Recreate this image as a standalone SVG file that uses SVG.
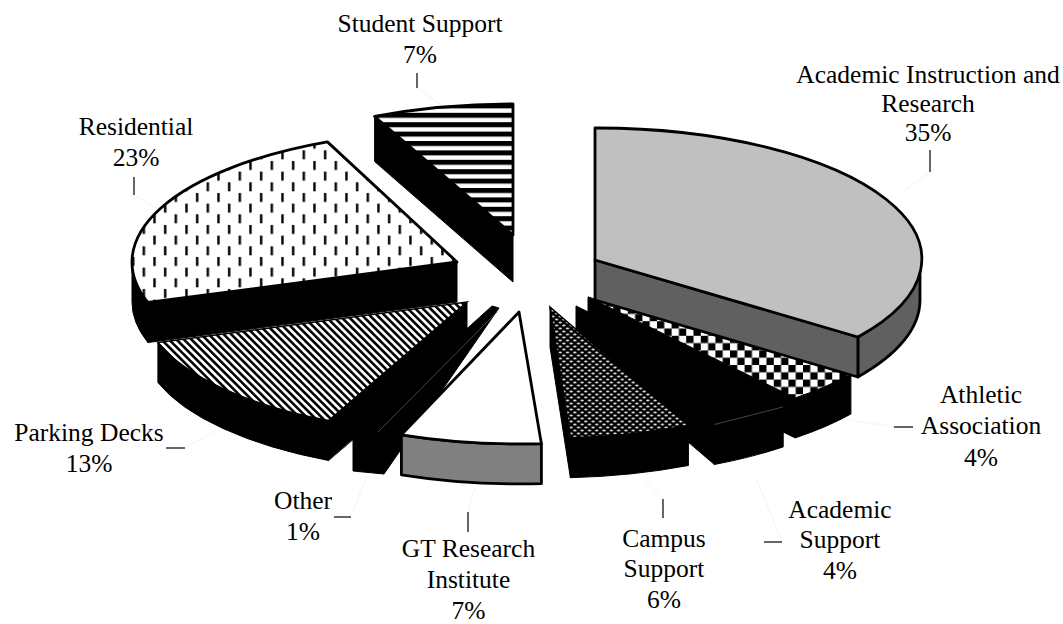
<svg xmlns="http://www.w3.org/2000/svg" width="1063" height="624" viewBox="0 0 1063 624">
<defs>
<pattern id="pDash" width="21.33" height="21.33" patternUnits="userSpaceOnUse">
<rect width="21.33" height="21.33" fill="#fff"/>
<rect x="4" y="1" width="2.4" height="9" fill="#000"/>
<rect x="14.67" y="11.67" width="2.4" height="9" fill="#000"/>
</pattern>
<pattern id="pDiag" width="5.3" height="10" patternUnits="userSpaceOnUse" patternTransform="rotate(-45)">
<rect width="5.3" height="10" fill="#fff"/>
<rect width="2.6" height="10" fill="#000"/>
</pattern>
<pattern id="pHoriz" width="10" height="9.4" patternUnits="userSpaceOnUse">
<rect width="10" height="9.4" fill="#fff"/>
<rect width="10" height="5" fill="#000"/>
</pattern>
<pattern id="pCheck" width="14.6" height="14.6" patternUnits="userSpaceOnUse">
<rect width="14.6" height="14.6" fill="#fff"/>
<rect width="7.3" height="7.3" fill="#000"/>
<rect x="7.3" y="7.3" width="7.3" height="7.3" fill="#000"/>
</pattern>
<pattern id="pDots" width="7.3" height="6" patternUnits="userSpaceOnUse">
<rect width="7.3" height="6" fill="#000"/>
<ellipse cx="1.8" cy="1.5" rx="1.7" ry="0.9" fill="#ddd"/>
<ellipse cx="5.45" cy="4.5" rx="1.7" ry="0.9" fill="#ddd"/>
</pattern>
</defs>
<style>
.top{stroke:#000;stroke-width:2.8;stroke-linejoin:round}
.blk{fill:#000;stroke:#000;stroke-width:1;stroke-linejoin:round}
.sep{stroke:#555;stroke-width:0.8;fill:none}
.lbl{font-family:"Liberation Serif","Times New Roman",serif;font-size:25.5px;fill:#000;text-anchor:middle}
.tick{stroke:#000;stroke-width:1.2}
.lead{stroke:#f3f3f3;stroke-width:1;fill:none}
</style>
<rect width="1063" height="624" fill="#fff"/>

<g id="leaders">
<line class="lead" x1="417" y1="88" x2="440" y2="104"/>
<line class="lead" x1="930" y1="172" x2="905" y2="190"/>
<line class="lead" x1="134" y1="195" x2="160" y2="210"/>
<line class="lead" x1="185" y1="448" x2="217" y2="430"/>
<line class="lead" x1="351" y1="517" x2="367" y2="475"/>
<line class="lead" x1="468" y1="512" x2="475" y2="487"/>
<line class="lead" x1="663" y1="499" x2="643" y2="480"/>
<line class="lead" x1="782" y1="542" x2="757" y2="480"/>
<line class="lead" x1="894" y1="427" x2="850" y2="420"/>
</g>

<g id="slice-student-support">
<path class="blk" d="M513,235 L374.6,116.5 L374.6,161.5 L513,282 Z"/>
<path class="top" fill="url(#pHoriz)" d="M513,235 L374.6,116.5 A325,131 0 0 1 513,104 Z"/>
</g>

<g id="slice-residential">
<path class="blk" d="M457,262 L147.9,302.5 L147.9,342.5 L457,302 Z"/>
<path class="blk" d="M147.9,302.5 A325,131 0 0 1 132,262 L132,302 A325,131 0 0 0 147.9,342.5 Z"/>
<path class="top" fill="url(#pDash)" d="M457,262 L147.9,302.5 A325,131 0 0 1 327.4,141.9 Z"/>
</g>

<g id="slice-athletic">
<path class="blk" d="M850.9,374 A325,131 0 0 1 795.2,397.9 L795.2,437.9 A325,131 0 0 0 850.9,414 Z"/>
<path class="blk" d="M588,297 L795.2,397.9 L795.2,437.9 L588,337 Z"/>
<path fill="url(#pCheck)" stroke="#000" stroke-width="1" d="M588,297 L850.9,374 A325,131 0 0 1 795.2,397.9 Z"/>
</g>

<g id="slice-academic-support">
<path class="blk" d="M783.2,406.9 A325,131 0 0 1 714.4,424.5 L714.4,464.5 A325,131 0 0 0 783.2,446.9 Z"/>
<path class="blk" d="M576,306 L714.4,424.5 L714.4,464.5 L576,346 Z"/>
<path class="blk" d="M576,306 L783.2,406.9 A325,131 0 0 1 714.4,424.5 Z"/>
<path class="sep" d="M714.4,424.5 L783.2,406.9"/>
</g>

<g id="slice-academic-instruction">
<path class="top" fill="#606060" d="M920,260 A325,131 0 0 1 857.9,337 L857.9,377 A325,131 0 0 0 920,300 Z"/>
<path class="top" fill="#606060" d="M595,260 L857.9,337 L857.9,377 L595,300 Z"/>
<path class="top" fill="#c0c0c0" d="M595,260 L595,128 A325,131 0 0 1 857.9,337 Z"/>
</g>

<g id="slice-campus-support">
<path class="blk" d="M688.4,425.5 A325,131 0 0 1 570.4,437.7 L570.4,477.7 A325,131 0 0 0 688.4,465.5 Z"/>
<path class="blk" d="M550,307 L570.4,437.7 L570.4,477.7 L550,347 Z"/>
<path fill="url(#pDots)" stroke="#000" stroke-width="1.5" d="M550,307 L688.4,425.5 A325,131 0 0 1 570.4,437.7 Z"/>
</g>

<g id="slice-parking">
<path class="blk" d="M467,302 L328.6,420.5 L328.6,460.5 L467,342 Z"/>
<path class="blk" d="M328.6,420.5 A325,131 0 0 1 157.9,342.5 L157.9,382.5 A325,131 0 0 0 328.6,460.5 Z"/>
<path fill="url(#pDiag)" stroke="#000" stroke-width="1.5" d="M467,302 L328.6,420.5 A325,131 0 0 1 157.9,342.5 Z"/>
<path class="sep" d="M467,342 L328.6,460.5"/>
</g>

<g id="slice-other">
<path class="blk" d="M492,306 L499,308 L384,474 L353,471 L353,432 Z"/>
<path class="sep" d="M497,312 L378,432"/>
</g>

<g id="slice-gt-research">
<path class="top" fill="#808080" d="M541.4,443.7 A325,131 0 0 1 401.4,434.8 L401.4,474.8 A325,131 0 0 0 541.4,483.7 Z"/>
<path class="top" fill="#fff" d="M519,312 L541.4,443.7 A325,131 0 0 1 401.4,434.8 Z"/>
</g>

<g id="labels" font-family="Liberation Serif, Times New Roman, serif">
<text class="lbl" x="420" y="32">Student Support</text>
<text class="lbl" x="420" y="63">7%</text>
<line class="tick" x1="417" y1="73" x2="417" y2="88"/>

<text class="lbl" x="928" y="83">Academic Instruction and</text>
<text class="lbl" x="928" y="112">Research</text>
<text class="lbl" x="928" y="141">35%</text>
<line class="tick" x1="930" y1="150" x2="930" y2="172"/>

<text class="lbl" x="136" y="135">Residential</text>
<text class="lbl" x="136" y="166">23%</text>
<line class="tick" x1="134" y1="177" x2="134" y2="195"/>

<text class="lbl" x="89" y="441">Parking Decks</text>
<text class="lbl" x="89" y="472">13%</text>
<line class="tick" x1="166" y1="448" x2="185" y2="448"/>

<text class="lbl" x="303" y="509">Other</text>
<text class="lbl" x="303" y="540">1%</text>
<line class="tick" x1="334" y1="517" x2="351" y2="517"/>

<text class="lbl" x="468.5" y="557">GT Research</text>
<text class="lbl" x="468.5" y="588">Institute</text>
<text class="lbl" x="468.5" y="619">7%</text>
<line class="tick" x1="468" y1="512" x2="468" y2="532"/>

<text class="lbl" x="664" y="547">Campus</text>
<text class="lbl" x="664" y="577">Support</text>
<text class="lbl" x="664" y="608">6%</text>
<line class="tick" x1="663" y1="499" x2="663" y2="518"/>

<text class="lbl" x="840" y="518">Academic</text>
<text class="lbl" x="840" y="548">Support</text>
<text class="lbl" x="840" y="579">4%</text>
<line class="tick" x1="764" y1="542" x2="782" y2="542"/>

<text class="lbl" x="981" y="403">Athletic</text>
<text class="lbl" x="981" y="434">Association</text>
<text class="lbl" x="981" y="466">4%</text>
<line class="tick" x1="894" y1="427" x2="913" y2="427"/>
</g>
</svg>
